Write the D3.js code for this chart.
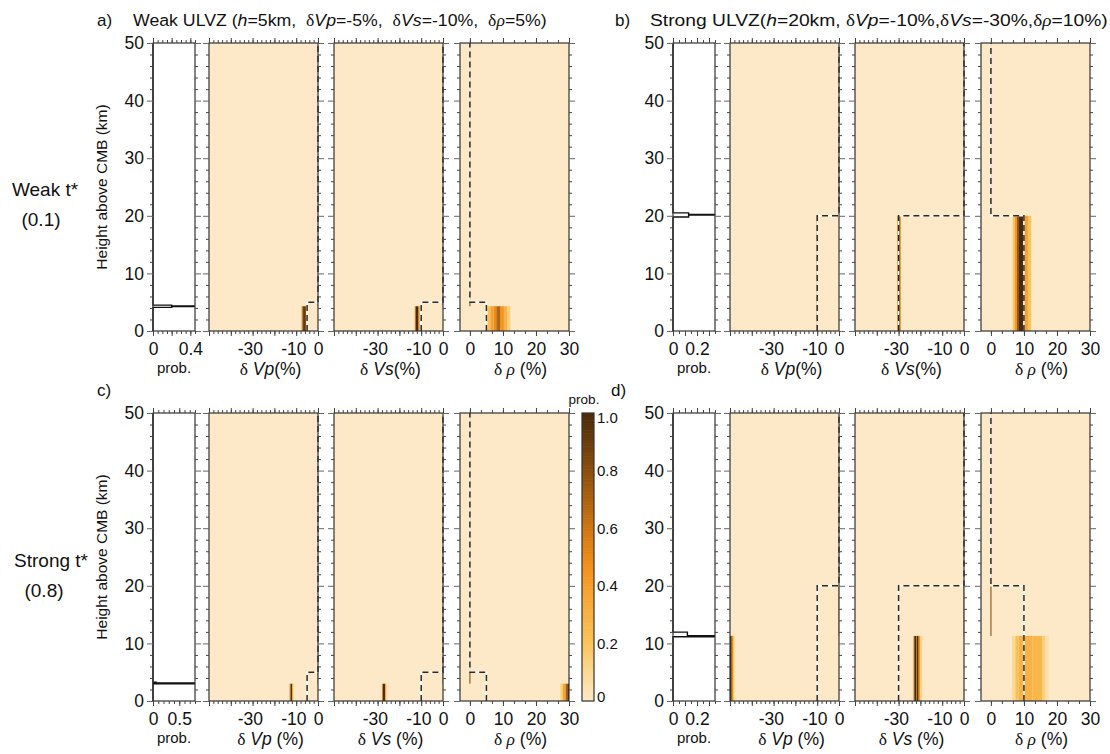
<!DOCTYPE html>
<html><head><meta charset="utf-8">
<script src="https://cdn.jsdelivr.net/npm/d3@7"></script>
<style>
body{margin:0;background:#fff;}
svg text{font-family:"Liberation Sans",Arial,Helvetica,sans-serif;fill:#111;}
</style></head><body>
<script>
// ================= DATA =================
const panelIds = ["a","b","c","d"];
const ulvzHeight = [5, 20, 5, 20];      // true ULVZ height (km)
const trueVp  = [-5, -10, -5, -10];     // true dVp (%)
const trueVs  = [-10, -30, -10, -30];   // true dVs (%)
const trueRho = [5, 10, 5, 10];         // true drho (%)

const heightTickLabels = [0, 10, 20, 30, 40, 50];
const vpTickLabels  = [-30, -10, 0];
const vsTickLabels  = [-30, -10, 0];
const rhoTickLabels = [0, 10, 20, 30];
const probMax = [0.45, 0.35, 0.8, 0.35];
const probTickLabels = [[0, 0.4], [0, 0.2], [0, 0.5], [0, 0.2]];
const probMajorStep = [0.2, 0.1, 0.5, 0.1];
const probMinorStep = [0.05, 0.05, 0.1, 0.05];
const colorbarTickLabels = [0, 0.2, 0.4, 0.6, 0.8, 1.0];

// marginal probability of ULVZ height: bin edges (km) and probabilities
const histEdgesA = [4.1, 4.25, 4.35, 4.5];   const histProbA = [0.2, 0.6, 0.2];
const histEdgesB = [19.8, 20.15, 20.25, 20.5]; const histProbB = [0.13, 0.5, 0.13];
const histEdgesC = [3.0, 3.15, 3.25];        const histProbC = [0.9, 0.06];
const histEdgesD = [11.15, 11.35, 11.95];    const histProbD = [0.5, 0.12];

// posterior columns inside the ULVZ: [from %, to %, probability]
const postTop = [4.3, 20, 3.0, 11.3];        // top of posterior ULVZ (km)
const aVpPost  = [[-7.6,-7.2,0.35],[-7.2,-6.8,0.75],[-6.8,-6.0,1.0],[-6.0,-5.5,0.8],[-5.5,-5.1,0.3]];
const aVsPost  = [[-13.0,-12.6,0.4],[-12.6,-11.2,1.0],[-11.2,-10.7,0.45]];
const aRhoPost = [[5.3,6.2,0.22],[6.2,7.2,0.4],[7.2,8.0,0.5],[8.0,9.3,0.68],[9.3,10.3,0.45],[10.3,11.3,0.3],[11.3,12.2,0.15]];
const bVpPost  = [[-10.5,-10.0,0.55]];
const bVsPost  = [[-30.7,-30.2,0.45],[-30.2,-29.4,1.0],[-29.4,-28.9,0.4]];
const bRhoPost = [[6.6,7.3,0.2],[7.3,7.9,0.45],[7.9,8.3,0.75],[8.3,9.8,1.0],[9.8,10.3,0.55],[10.3,11.2,0.4],[11.2,12.2,0.2]];
const cVpPost  = [[-13.0,-12.5,0.6],[-12.5,-11.8,1.0],[-11.8,-11.3,0.3]];
const cVsPost  = [[-28.0,-27.6,0.5],[-27.6,-26.6,1.0],[-26.6,-26.0,0.35]];
const cRhoPost = [[27.4,28.2,0.15],[28.2,29.0,0.4],[29.0,29.5,0.7],[29.5,30,1.0]];
const dVpPost  = [[-50,-49.2,1.0],[-49.2,-48.6,0.5],[-48.6,-48.0,0.2]];
const dVsPost  = [[-23.2,-22.8,0.5],[-22.8,-22.0,1.0],[-22.0,-21.6,0.65],[-21.6,-20.8,1.0],[-20.8,-20.0,0.45],[-20.0,-19.2,0.12]];
const dRhoPost = [[6.4,7.4,0.1],[7.4,8.4,0.22],[8.4,12.5,0.3],[12.5,15.5,0.27],[15.5,16.5,0.15],[16.5,17.5,0.06]];
// posterior above the ULVZ (reference value 0)
const upperPost = [[-0.22,0.22,0.8]];

const colorStops = [0, 0.1, 0.2, 0.35, 0.45, 0.6, 0.8, 1];
const colorRange = ["#fde9c7","#fcd995","#f9c45a","#f8a93a","#f7941e","#cf7611","#8a4f0e","#4a2b0b"];

// ================= LAYOUT =================
const W = 1110, H = 754;
const rowY0 = [331, 701], plotH = 288;
const colX = [[153, 209, 334, 460], [673, 730, 855, 981]];
const probW = 42, mainW = 109;
const vpDomain = [-50, 0], rhoDomain = [-3, 30];

const panelDefs = [
  {row:0, col:0, hE:histEdgesA, hP:histProbA, vp:aVpPost, vs:aVsPost, rho:aRhoPost, sp:""},
  {row:0, col:1, hE:histEdgesB, hP:histProbB, vp:bVpPost, vs:bVsPost, rho:bRhoPost, sp:""},
  {row:1, col:0, hE:histEdgesC, hP:histProbC, vp:cVpPost, vs:cVsPost, rho:cRhoPost, sp:" "},
  {row:1, col:1, hE:histEdgesD, hP:histProbD, vp:dVpPost, vs:dVsPost, rho:dRhoPost, sp:" "}
];

const svg = d3.select("body").append("svg").attr("width", W).attr("height", H);
const defs = svg.append("defs");
const probColor = d3.scaleLinear().domain(colorStops).range(colorRange);
let clipN = 0;
function addClip(x, y, w, h) {
  const id = "clip" + (clipN++);
  defs.append("clipPath").attr("id", id).append("rect").attr("x", x).attr("y", y).attr("width", w).attr("height", h);
  return `url(#${id})`;
}
const FRAME = "#333", TICK = "#444";

function styleAxis(sel) {
  sel.select(".domain").remove();
  sel.attr("font-size", null).attr("font-family", null);
  sel.selectAll("line").attr("stroke", TICK).attr("stroke-width", 1);
}
function yAxes(g, y, xl, xr) {
  const minor = d3.range(0, 51, 2).filter(d => d % 10 !== 0);
  const major = d3.range(0, 51, 10);
  [[d3.axisLeft, xl], [d3.axisRight, xr]].forEach(([ax, x]) => {
    g.append("g").attr("transform", `translate(${x},0)`).call(ax(y).tickValues(minor).tickSize(3).tickFormat("")).call(styleAxis);
    g.append("g").attr("transform", `translate(${x},0)`).call(ax(y).tickValues(major).tickSize(6).tickFormat("")).call(styleAxis)
      .selectAll("line").attr("stroke", "#666");
  });
}
function xAxes(g, x, y0, yTop, minor, major, labels, fmt, labelY) {
  [[d3.axisBottom, y0], [d3.axisTop, yTop]].forEach(([ax, yy]) => {
    g.append("g").attr("transform", `translate(0,${yy})`).call(ax(x).tickValues(minor).tickSize(3).tickFormat("")).call(styleAxis);
    g.append("g").attr("transform", `translate(0,${yy})`).call(ax(x).tickValues(major).tickSize(5).tickFormat("")).call(styleAxis);
  });
  const lg = g.append("g").attr("transform", `translate(0,${y0})`)
    .call(d3.axisBottom(x).tickValues(labels).tickSize(0).tickPadding(labelY).tickFormat(fmt)).call(styleAxis);
  lg.selectAll("text").style("font-size", "17.5px").style("fill", "#111")
    .attr("dx", d => d < 0 ? -2.8 : 0);
}
function frame(g, x, y, w, h) {
  g.append("rect").attr("x", x).attr("y", y).attr("width", w).attr("height", h)
    .attr("fill", "none").attr("stroke", FRAME).attr("stroke-width", 1.2);
}
function rich(parent, x, y, parts, size, anchor) {
  const t = parent.append("text").attr("x", x).attr("y", y)
    .style("font-size", size + "px").style("white-space", "pre").attr("text-anchor", anchor || "start");
  parts.forEach(([s, k]) => {
    const ts = t.append("tspan").text(s);
    if (k === "i") ts.style("font-style", "italic");
    if (k === "g") ts.style("font-family", "'Liberation Serif','DejaVu Serif',serif");
    if (k === "gi") ts.style("font-family", "'Liberation Serif','DejaVu Serif',serif").style("font-style", "italic");
  });
  return t;
}
function fitWidth(t, x, target) {
  const w = t.node().getBBox().width;
  const s = target / w;
  t.attr("transform", `translate(${x},0) scale(${s},1) translate(${-x},0)`);
}
function histPoints(edges, probs) {
  const pts = [[0, 0], [0, edges[0]]];
  probs.forEach((p, k) => { pts.push([p, edges[k]], [p, edges[k + 1]]); });
  pts.push([0, edges[edges.length - 1]], [0, 50]);
  return pts;
}

panelDefs.forEach((P, i) => {
  const y0 = rowY0[P.row], yTop = y0 - plotH;
  const y = d3.scaleLinear().domain([0, 50]).range([y0, yTop]);
  const xs = colX[P.col];
  const g = svg.append("g");
  const labelPad = 12;

  // ---- probability of height ----
  const px = d3.scaleLinear().domain([0, probMax[i]]).range([xs[0], xs[0] + probW]);
  g.append("rect").attr("x", xs[0]).attr("y", yTop).attr("width", probW).attr("height", plotH).attr("fill", "#fff");
  g.append("path").attr("clip-path", addClip(xs[0] - 1, yTop, probW + 1, plotH))
    .attr("d", d3.line().x(d => px(d[0])).y(d => y(d[1]))(histPoints(P.hE, P.hP)))
    .attr("fill", "none").attr("stroke", "#111").attr("stroke-width", 1.4);
  frame(g, xs[0], yTop, probW, plotH);
  yAxes(g, y, xs[0], xs[0] + probW);
  const pMinor = d3.range(0, probMax[i] + 1e-9, probMinorStep[i]);
  const pMajor = d3.range(0, probMax[i] + 1e-9, probMajorStep[i]);
  xAxes(g, px, y0, yTop, pMinor, pMajor, probTickLabels[i], d => d === 0 ? "0" : String(d), labelPad);
  rich(g, xs[0] + probW / 2, y0 + 42, [["prob.", "n"]], 15, "middle");

  // y tick labels
  const yl = g.append("g").attr("transform", `translate(${xs[0]},0)`)
    .call(d3.axisLeft(y).tickValues(heightTickLabels).tickSize(0).tickPadding(9).tickFormat(d => String(d))).call(styleAxis);
  yl.selectAll("text").style("font-size", "17.5px").style("fill", "#111");
  if (P.col === 0) {
    g.append("text").attr("transform", `translate(107,${(y0 + yTop) / 2}) rotate(-90)`)
      .attr("text-anchor", "middle").style("font-size", "15.5px").text("Height above CMB (km)");
  }

  // ---- heat maps ----
  const subs = [
    {x0: xs[1], dom: vpDomain, post: P.vp, tv: trueVp[i], labels: vpTickLabels, name: "Vp", off: 7, rho: false},
    {x0: xs[2], dom: vpDomain, post: P.vs, tv: trueVs[i], labels: vsTickLabels, name: "Vs", off: 2, rho: false},
    {x0: xs[3], dom: rhoDomain, post: P.rho, tv: trueRho[i], labels: rhoTickLabels, name: "rho", off: 6, rho: true}
  ];
  subs.forEach(S => {
    const x = d3.scaleLinear().domain(S.dom).range([S.x0, S.x0 + mainW]);
    const hg = g.append("g").attr("clip-path", addClip(S.x0, yTop, mainW, plotH));
    hg.append("rect").attr("x", S.x0).attr("y", yTop).attr("width", mainW).attr("height", plotH).attr("fill", probColor(0));
    hg.selectAll("rect.post").data(S.post).join("rect").attr("class", "post")
      .attr("x", d => x(d[0])).attr("width", d => x(d[1]) - x(d[0]))
      .attr("y", y(postTop[i])).attr("height", y(0) - y(postTop[i]))
      .attr("fill", d => probColor(d[2]));
    hg.selectAll("rect.up").data(upperPost).join("rect").attr("class", "up")
      .attr("x", d => x(d[0])).attr("width", d => x(d[1]) - x(d[0]))
      .attr("y", y(50)).attr("height", y(postTop[i]) - y(50))
      .attr("fill", d => probColor(d[2])).attr("opacity", 0.75);
    // true model
    const h = ulvzHeight[i];
    const tm = [[S.tv, 0], [S.tv, h], [0, h], [0, 50]];
    const ln = d3.line().x(d => x(d[0])).y(d => y(d[1]));
    g.append("path").attr("d", ln(tm)).attr("fill", "none").attr("stroke", "#fff").attr("stroke-width", 1.5);
    g.append("path").attr("d", ln(tm)).attr("fill", "none").attr("stroke", "#2a2a2a").attr("stroke-width", 1.5).attr("stroke-dasharray", "6,4");
    frame(g, S.x0, yTop, mainW, plotH);
    yAxes(g, y, S.x0, S.x0 + mainW);
    let minor, major;
    if (S.rho) { minor = d3.range(0, 30.01, 10 / 3); major = [0, 10, 20, 30]; }
    else { minor = d3.range(-50, 0.01, 2); major = d3.range(-50, 0.01, 10); }
    xAxes(g, x, y0, yTop, minor, major, S.labels, d => String(d), labelPad);
    const cx = S.x0 + mainW / 2 + S.off;
    if (S.rho) rich(g, cx, y0 + 44, [["δ ", "g"], ["ρ", "gi"], [" (%)", "n"]], 17.5, "middle");
    else rich(g, cx, y0 + 44, [["δ", "g"], [" " + S.name, "i"], [P.sp + "(%)", "n"]], 17.5, "middle");
  });
});

// ---- titles ----
const tA = rich(svg, 133, 26, [["Weak ULVZ (", "n"], ["h", "i"], ["=5km,  ", "n"], ["δ", "g"], ["Vp", "i"], ["=-5%,  ", "n"],
  ["δ", "g"], ["Vs", "i"], ["=-10%,  ", "n"], ["δ", "g"], ["ρ", "gi"], ["=5%)", "n"]], 16.5);
fitWidth(tA, 133, 414);
const tB = rich(svg, 650, 26, [["Strong ULVZ(", "n"], ["h", "i"], ["=20km, ", "n"], ["δ", "g"], ["Vp", "i"], ["=-10%,", "n"],
  ["δ", "g"], ["Vs", "i"], ["=-30%,", "n"], ["δ", "g"], ["ρ", "gi"], ["=10%)", "n"]], 16.5);
fitWidth(tB, 650, 458);
rich(svg, 97, 26, [["a)", "n"]], 17);
rich(svg, 615, 26, [["b)", "n"]], 17);
rich(svg, 97, 396, [["c)", "n"]], 17);
rich(svg, 611, 396, [["d)", "n"]], 17);

// row labels
rich(svg, 45, 196, [["Weak t*", "n"]], 19, "middle");
rich(svg, 41, 226, [["(0.1)", "n"]], 19, "middle");
rich(svg, 51, 567, [["Strong t*", "n"]], 19, "middle");
rich(svg, 44, 597, [["(0.8)", "n"]], 19, "middle");

// ---- colorbar ----
const cbX = 582, cbW = 12;
const cbY = d3.scaleLinear().domain([0, 1]).range([701, 413]);
const cbSteps = d3.range(0, 1, 0.005);
svg.append("g").selectAll("rect").data(cbSteps).join("rect")
  .attr("x", cbX).attr("width", cbW)
  .attr("y", d => cbY(d + 0.005)).attr("height", d => cbY(d) - cbY(d + 0.005) + 0.6)
  .attr("fill", d => probColor(d + 0.0025));
svg.append("rect").attr("x", cbX).attr("y", cbY(1)).attr("width", cbW).attr("height", cbY(0) - cbY(1))
  .attr("fill", "none").attr("stroke", FRAME).attr("stroke-width", 1.2);
const cbl = svg.append("g").attr("transform", `translate(${cbX + cbW},0)`)
  .call(d3.axisRight(cbY).tickValues(colorbarTickLabels).tickSize(0).tickPadding(3).tickFormat(d => d === 0 ? "0" : d.toFixed(1)))
  .call(styleAxis);
cbl.selectAll("text").style("font-size", "15px").style("fill", "#111")
  .attr("dy", d => d === 1 ? "0.62em" : d === 0 ? "0.05em" : "0.32em");
rich(svg, cbX + 2, 404, [["prob.", "n"]], 13.5, "middle");
</script>
</body></html>
